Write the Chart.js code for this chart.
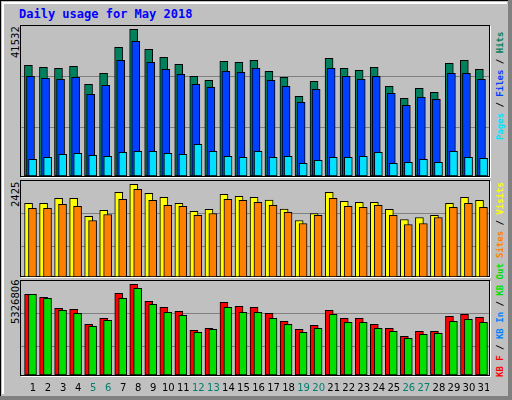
<!DOCTYPE html>
<html><head><meta charset="utf-8">
<script src="https://cdn.jsdelivr.net/npm/chart.js@4/dist/chart.umd.min.js"></script>
<style>
html,body{margin:0;padding:0;background:#c0c0c0;}
#wrap{position:relative;width:512px;height:400px;background:#c0c0c0;overflow:hidden;}
#wrap .ob{position:absolute;left:0;top:0;width:508px;height:396px;border-left:1px solid #000;border-top:1px solid #000;box-sizing:border-box;}
#wrap .ib{position:absolute;left:2px;top:2px;width:505px;height:392px;border-left:2px solid #fff;border-top:2px solid #fff;box-sizing:border-box;}
#wrap .br{position:absolute;right:0;top:0;width:4px;height:400px;background:#808080;}
#wrap .bb{position:absolute;left:0;bottom:0;width:512px;height:4px;background:#808080;}
.title{position:absolute;left:19px;top:7px;font:bold 12px "DejaVu Sans Mono";color:#0000ff;white-space:nowrap;}
.frame{position:absolute;left:20px;width:470px;border:1px solid #000;box-shadow:1px 1px 0 #fff;box-sizing:border-box;}
.grid{position:absolute;left:0;width:100%;height:1px;background:#808080;}
canvas{position:absolute;}
.vl{position:absolute;transform-origin:0 0;transform:rotate(-90deg);white-space:nowrap;}
.lv{font:10px "DejaVu Sans";color:#000;}
.rl{font:bold 9px "DejaVu Sans Mono";}
</style></head><body>
<div id="wrap">
<div class="ob"></div><div class="ib"></div><div class="br"></div><div class="bb"></div>
<div class="title">Daily usage for May 2018</div>
<div class="frame" style="top:25px;height:152px"><div class="grid" style="top:50px"></div><div class="grid" style="top:101px"></div></div>
<div class="frame" style="top:180px;height:97px"><div class="grid" style="top:32px"></div><div class="grid" style="top:65px"></div></div>
<div class="frame" style="top:280px;height:96px"><div class="grid" style="top:32px"></div><div class="grid" style="top:65px"></div></div>
<canvas id="c1" width="466" height="151" style="left:23px;top:25px"></canvas>
<canvas id="c2" width="466" height="97" style="left:23px;top:180px"></canvas>
<canvas id="c3" width="466" height="120" style="left:23px;top:280px"></canvas>
<div class="vl lv" style="left:10px;top:58px">41532</div>
<div class="vl lv" style="left:10px;top:207px">2425</div>
<div class="vl lv" style="left:10px;top:324px">5326806</div>
<div class="vl rl" style="left:495px;top:140px"><span style="color:#00e0ff">Pages</span> / <span style="color:#0040ff">Files</span> / <span style="color:#00805c">Hits</span></div>
<div class="vl rl" style="left:495px;top:258px"><span style="color:#ff8000">Sites</span> / <span style="color:#ffff00">Visits</span></div>
<div class="vl rl" style="left:495px;top:377px"><span style="color:#ff0000">KB F</span> / <span style="color:#0080ff">KB In</span> / <span style="color:#00e000">KB Out</span></div>
</div>
<script>
const days=[1,2,3,4,5,6,7,8,9,10,11,12,13,14,15,16,17,18,19,20,21,22,23,24,25,26,27,28,29,30,31];
const weekend=[5,6,12,13,19,20,26,27];
const hits=[31338,30771,30488,31054,25957,29072,36434,41532,35868,33603,31620,28223,27090,32470,32187,32753,29638,27939,22559,26807,33320,30488,29921,30771,25391,21993,24825,23692,31904,32753,30205];
const files=[28223,27656,27373,27939,23126,25674,32753,38134,32187,30205,28789,25957,25108,29638,29355,30488,27090,25391,20860,24541,30488,28223,27373,28223,23409,20011,22276,21710,29072,29072,27373];
const pages=[4720,5286,6135,6419,5852,5569,6702,6985,6985,6419,6135,8967,6985,5569,5286,6985,5286,5569,3587,4436,5286,5286,5569,6702,3587,3870,4720,3870,6985,5286,5003];
const visits=[1926,1926,2057,2057,1585,1742,2215,2425,2189,2084,1926,1716,1769,2163,2110,2084,2014,1777,1480,1663,2215,1979,1952,1952,1769,1506,1558,1611,1926,2084,2005];
const sites=[1795,1795,1900,1847,1480,1637,2031,2294,2005,1874,1847,1611,1663,2031,2005,1952,1874,1690,1401,1611,2057,1847,1821,1874,1611,1375,1401,1558,1821,1926,1821];
const kbF=[4739000,4563000,3917000,3858000,2977000,3329000,4798000,5326806,4328000,3976000,3741000,2624000,2742000,4269000,4034000,3976000,3623000,3153000,2683000,2918000,3799000,3329000,3329000,2977000,2742000,2272000,2565000,2565000,3447000,3564000,3388000];
const kbOut=[4739000,4504000,3799000,3623000,2859000,3212000,4504000,5092000,4152000,3682000,3506000,2507000,2683000,3976000,3682000,3682000,3329000,2977000,2507000,2742000,3564000,3094000,3094000,2742000,2565000,2154000,2389000,2448000,3153000,3271000,3094000];

function ds(vals,off,color){
  return {data:days.map((d,i)=>({x:d+off,y:vals[i]})),backgroundColor:color,borderColor:'#000',borderWidth:1,borderSkipped:false,grouped:false,barThickness:8};
}
function mk(id,sets,ymax,extra){
  return new Chart(document.getElementById(id),{type:'bar',data:{datasets:sets},
    options:{responsive:false,animation:false,devicePixelRatio:1,
      layout:{padding:extra?{bottom:25}:0},
      plugins:{legend:{display:false},tooltip:{enabled:false}},
      scales:{x:{type:'linear',offset:false,min:0.5,max:31.5,display:false},y:{min:0,max:ymax,display:false}}},
    plugins:extra?[extra]:[]});
}
mk('c1',[ds(pages,0.14,'#00e0ff'),ds(files,0,'#0040ff'),ds(hits,-0.14,'#00805c')],42759);
mk('c2',[ds(sites,0.13,'#ff8000'),ds(visits,-0.13,'#ffff00')],2539);
const labelPlugin={id:'daylabels',afterDraw(ch){
  const c=ch.ctx,xs=ch.scales.x,b=ch.chartArea.bottom;
  c.save();c.font='10px "DejaVu Sans"';c.textAlign='center';c.textBaseline='middle';
  days.forEach(d=>{c.fillStyle=weekend.includes(d)?'#007f6e':'#000';c.fillText(String(d),xs.getPixelForValue(d)+2.5,b+13);});
  c.restore();}};
mk('c3',[ds(kbOut,0.13,'#00e000'),ds(kbF,-0.13,'#ff0000')],5581000,labelPlugin);
</script>
</body></html>
